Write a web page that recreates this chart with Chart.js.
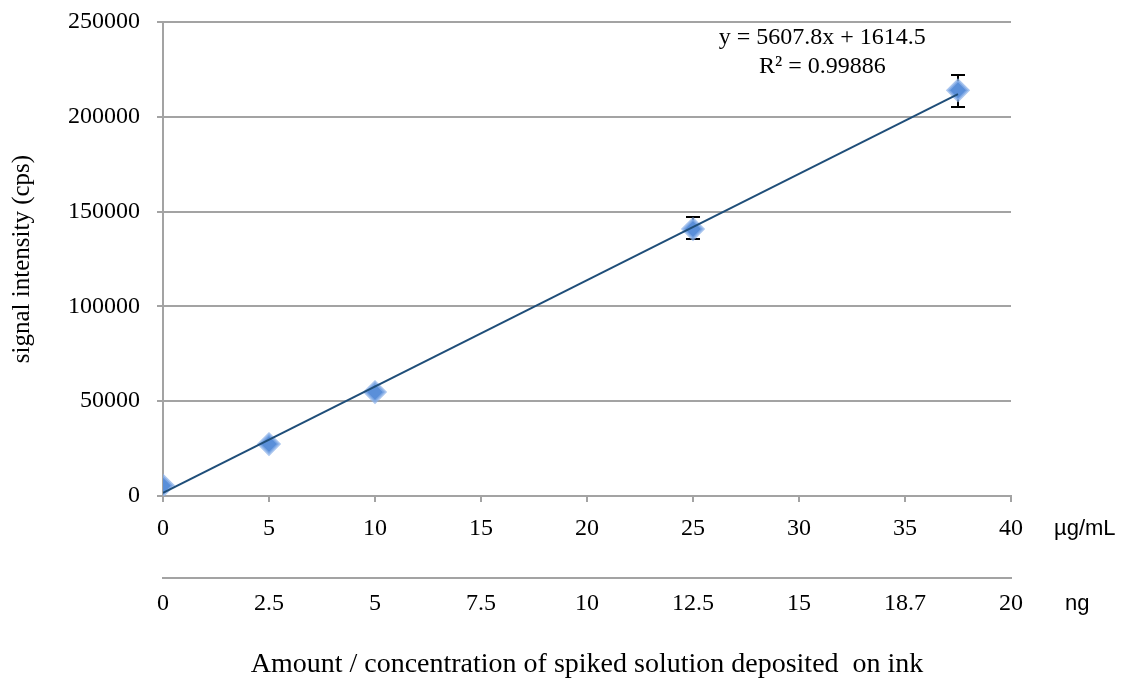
<!DOCTYPE html>
<html>
<head>
<meta charset="utf-8">
<script src="https://cdn.jsdelivr.net/npm/chart.js@4/dist/chart.umd.min.js"></script>
<style>
  body { margin: 0; background: #fff; }
  canvas { display: block; }
</style>
</head>
<body>
<canvas id="calib" width="1125" height="683"></canvas>
<script>
// measured points (µg/mL vs cps)
var concentrations = [0, 5, 10, 25, 37.5];
var intensities = [5500, 27400, 54800, 140800, 214000];
// error bars (only on the two highest points)
var errLow = [null, null, null, 135600, 205200];
var errHigh = [null, null, null, 147200, 222000];
// linear trendline y = 5607.8x + 1614.5, end points
var trendX = [0, 37.5];
var trendY = [1614.5, 211907];
// secondary axis labels (ng deposited)
var ngLabels = ['0', '2.5', '5', '7.5', '10', '12.5', '15', '18.7', '20'];
var yTicksMax = 250000;

var serif = 'Liberation Serif, Times New Roman, serif';
var gridGray = '#a3a3a3';

var errorBars = {
    id: 'errorBars',
    beforeDatasetsDraw: function (chart) {
        var ctx = chart.ctx;
        var xs = chart.scales.x, ys = chart.scales.y;
        ctx.save();
        ctx.strokeStyle = '#000';
        ctx.lineWidth = 2;
        for (var i = 0; i < concentrations.length; i++) {
            if (errLow[i] == null) continue;
            var px = xs.getPixelForValue(concentrations[i]);
            var lo = ys.getPixelForValue(errLow[i]);
            var hi = ys.getPixelForValue(errHigh[i]);
            ctx.beginPath();
            ctx.moveTo(px, lo); ctx.lineTo(px, hi);
            ctx.moveTo(px - 7, lo); ctx.lineTo(px + 7, lo);
            ctx.moveTo(px - 7, hi); ctx.lineTo(px + 7, hi);
            ctx.stroke();
        }
        ctx.restore();
    }
};

var annotations = {
    id: 'annotations',
    afterDraw: function (chart) {
        var ctx = chart.ctx;
        var xs = chart.scales.x, ys = chart.scales.y, x2 = chart.scales.x2;
        ctx.save();
        ctx.fillStyle = '#000';
        // trendline equation
        ctx.font = '24px ' + serif;
        ctx.textAlign = 'center';
        ctx.textBaseline = 'middle';
        var ex = xs.getPixelForValue(31.1);
        ctx.fillText('y = 5607.8x + 1614.5', ex, ys.getPixelForValue(241500));
        ctx.fillText('R\u00B2 = 0.99886', ex, ys.getPixelForValue(226200));
        // unit labels right of the axes
        ctx.font = '22px Liberation Sans, Arial, sans-serif';
        ctx.textAlign = 'left';
        ctx.fillText('\u00B5g/mL', chart.chartArea.right + 43, xs.top + 33);
        ctx.fillText('ng', chart.chartArea.right + 54, x2.top + 26);
        ctx.restore();
    }
};

var chart = new Chart(document.getElementById('calib').getContext('2d'), {
    type: 'scatter',
    data: {
        datasets: [{
            type: 'line',
            label: 'Linear',
            data: trendX.map(function (x, i) { return {x: x, y: trendY[i]}; }),
            borderColor: '#1f4e79',
            borderWidth: 2,
            pointRadius: 0,
            fill: false,
            xAxisID: 'x',
            order: 0
        }, {
            label: 'signal',
            data: concentrations.map(function (x, i) { return {x: x, y: intensities[i]}; }),
            pointStyle: 'rectRot',
            pointRadius: 10,
            backgroundColor: '#5a8fd9',
            borderColor: 'rgba(140,178,232,0.75)',
            borderWidth: 3,
            xAxisID: 'x',
            order: 1
        }]
    },
    options: {
        responsive: false,
        animation: false,
        layout: { padding: { left: 0, right: 114, top: 22, bottom: 0 } },
        plugins: { legend: { display: false }, tooltip: { enabled: false } },
        scales: {
            x: {
                type: 'linear',
                position: 'bottom',
                weight: 0,
                min: 0, max: 40,
                ticks: { stepSize: 5, color: '#000', font: { family: serif, size: 24 }, padding: 12, maxRotation: 0 },
                grid: { drawOnChartArea: false, tickLength: 6, color: gridGray, lineWidth: 2 },
                border: { color: gridGray, width: 2 },
                afterFit: function (scale) { scale.height = 82; }
            },
            x2: {
                type: 'linear',
                position: 'bottom',
                weight: 1,
                min: 0, max: 20,
                ticks: {
                    stepSize: 2.5, color: '#000', font: { family: serif, size: 24 }, padding: 11, maxRotation: 0,
                    callback: function (v, i) { return ngLabels[i]; }
                },
                grid: { drawOnChartArea: false, drawTicks: false, tickLength: 0 },
                border: { color: gridGray, width: 2 },
                title: {
                    display: true,
                    text: 'Amount / concentration of spiked solution deposited  on ink',
                    color: '#000',
                    font: { family: serif, size: 28 },
                    padding: { top: 2, bottom: 2 }
                },
                afterFit: function (scale) { scale.height = 105; }
            },
            y: {
                type: 'linear',
                min: 0, max: yTicksMax,
                ticks: {
                    stepSize: 50000, color: '#000', font: { family: serif, size: 24 }, padding: 17,
                    callback: function (v) { return String(v); }
                },
                grid: { color: gridGray, lineWidth: 2, tickLength: 6 },
                border: { color: gridGray, width: 2 },
                title: {
                    display: true,
                    text: 'signal intensity (cps)',
                    color: '#000',
                    font: { family: serif, size: 25 },
                    padding: { top: 7, bottom: 7 }
                },
                afterFit: function (scale) {
                    scale.width = 163;
                    scale.paddingTop = 8;
                    scale.paddingBottom = 8;
                }
            }
        }
    },
    plugins: [errorBars, annotations]
});
</script>
</body>
</html>
